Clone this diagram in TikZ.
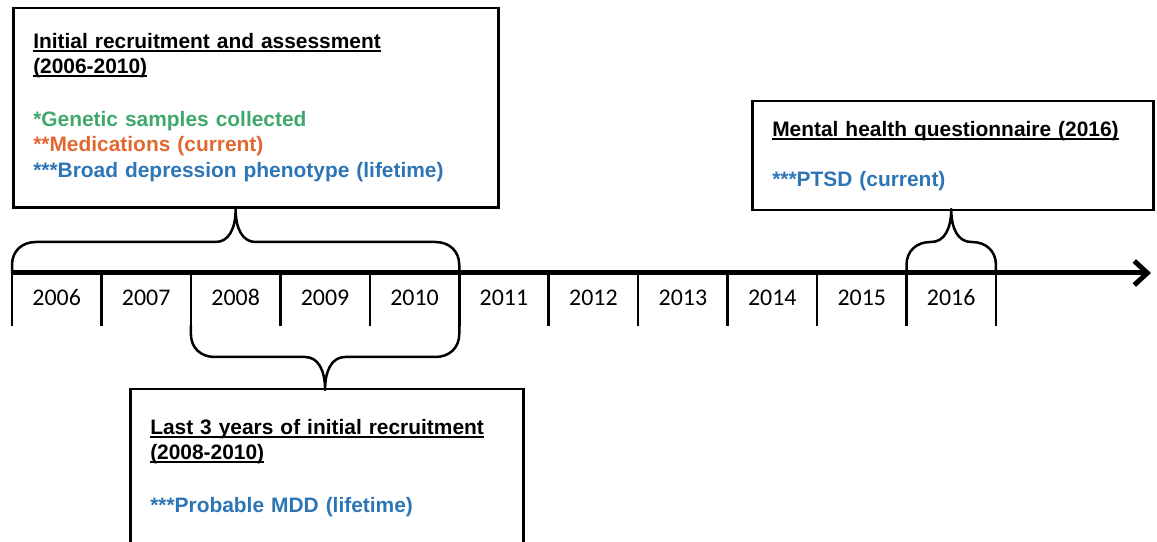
\documentclass[tikz,border=0pt]{standalone}
\usepackage{fontspec}
\setmainfont{Liberation Sans}
\newfontfamily\yearfont{Carlito}
\newsavebox\ulinebox
\newcommand\titleline[1]{\leavevmode\sbox\ulinebox{#1}\rlap{\rule[-3.5bp]{\wd\ulinebox}{1.8bp}}\usebox\ulinebox}
\usetikzlibrary{arrows.meta,calc}
\definecolor{gengreen}{RGB}{64,168,110}
\definecolor{medorange}{RGB}{226,104,48}
\definecolor{phenoblue}{RGB}{46,117,182}
\tikzset{
  infobox/.style={draw,line width=2.5bp,anchor=north west,align=left,inner xsep=20bp,
    font=\fontsize{21}{25}\selectfont\bfseries},
  brace/.style={line width=2.5bp,line cap=round,line join=round},
  tickline/.style={line width=2.5bp},
  axisline/.style={line width=5bp,-{Straight Barb[length=13bp,width=24bp]}},
  year/.style={anchor=base,font=\yearfont\fontsize{24}{27}\selectfont}
}
% brace between two ends, #3 = -1 opens up, 1 opens down
\newcommand\tlbrace[3]{%
  \draw[brace] (#1) -- ($(#1)+(0,#3*8)$)
    .. controls +(0,#3*14) and +(-14,0) .. ($(#1)+(24,#3*31)$)
    -- ($(#1)!.5!(#2)+(-20,#3*31)$)
    .. controls +(13,0) and +(0,{-20*#3}) .. ($(#1)!.5!(#2)+(0,#3*64)$)
    .. controls +(0,{-20*#3}) and +(-13,0) .. ($(#1)!.5!(#2)+(20,#3*31)$)
    -- ($(#2)+(-24,#3*31)$)
    .. controls +(14,0) and +(0,#3*14) .. ($(#2)+(0,#3*8)$) -- (#2);}
\begin{document}
\begin{tikzpicture}[x=1bp,y=-1bp]
\useasboundingbox (0,0) rectangle (1157,542);
% timeline
\foreach \i in {0,...,11} {
  \coordinate (t\i) at ({12+89.45*\i},273);
  \coordinate (b\i) at ({12+89.45*\i},326);
  \draw[tickline] (t\i) -- (b\i);
}
\foreach \yr [count=\i from 0] in {2006,...,2016}
  \node[year] (y\yr) at ({12+89.45*(\i+0.5)},305.5) {\yr};
\coordinate (end) at (1151,273);
\draw[axisline] (t0) -- (end);
% braces
\tlbrace{t0}{t5}{-1}
\tlbrace{b2}{b5}{1}
\tlbrace{t10}{t11}{-1}
% boxes
\node[infobox,text width=445bp,minimum height=199bp] (initbox) at (12,7) {%
  \titleline{Initial recruitment and assessment}\\
  \titleline{(2006-2010)}\\[28bp]
  {\color{gengreen}*Genetic samples collected}\\
  {\color{medorange}**Medications (current)}\\[2bp]
  {\color{phenoblue}***Broad depression phenotype (lifetime)}};
\node[infobox,text width=353bp,minimum height=157bp] (lastbox) at (129,388) {%
  \titleline{Last 3 years of initial recruitment}\\
  \titleline{(2008-2010)}\\[28bp]
  {\color{phenoblue}***Probable MDD (lifetime)}};
\node[infobox,text width=361bp,minimum height=109bp] (mhbox) at (751,100) {%
  \titleline{Mental health questionnaire (2016)}\\[25bp]
  {\color{phenoblue}***PTSD (current)}};
\end{tikzpicture}
\end{document}
